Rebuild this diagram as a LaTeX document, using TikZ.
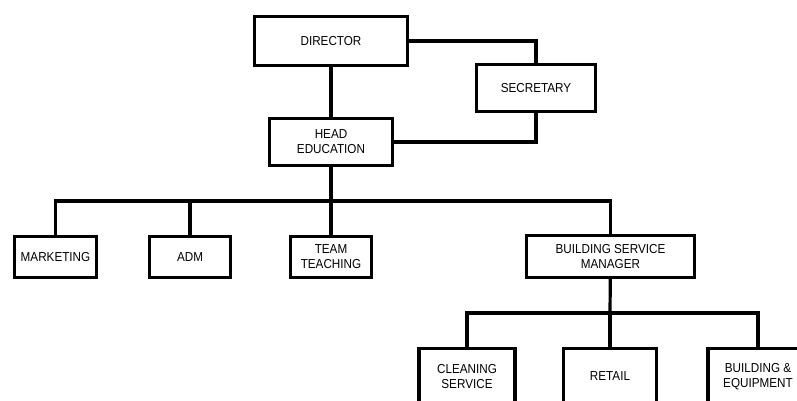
\documentclass[tikz,border=0pt]{standalone}
\usepackage{fontspec}
\setmainfont[FakeStretch=0.9]{Liberation Sans}
\usetikzlibrary{positioning}

\begin{document}
\begin{tikzpicture}[
  x=1pt, y=-1pt,
  every node/.style={draw, line width=3.2pt, align=center, inner sep=2pt,
    font=\fontsize{13}{15}\selectfont},
  topbox/.style={minimum width=153pt, minimum height=49pt},
  midbox/.style={minimum width=121pt, minimum height=47pt},
  deptbox/.style={minimum width=82pt, minimum height=41pt},
  lowbox/.style={minimum width=96pt, minimum height=56pt},
  link/.style={line width=3.2pt}
]
\useasboundingbox (0,0) rectangle (797,401);
\clip (0,0) rectangle (797,401);

% top of the chart
\node[topbox] (dir) at (331,41) {DIRECTOR};
\node[midbox, minimum width=119pt] (sec) at (536,88) {SECRETARY};
\node[midbox, minimum width=123pt] (head) at (331,142) {HEAD\\EDUCATION};

\draw[link] (dir) -- (head);
\draw[link] (dir.east) -| (sec.north);
\draw[link] (sec.south) |- (head.east);

% departments
\node[deptbox] (mkt) at (55.5,257) {MARKETING};
\node[deptbox, minimum width=81pt] (adm) at (190,257) {ADM};
\node[deptbox, minimum width=81pt] (team) at (331,257) {TEAM\\TEACHING};
\node[deptbox, minimum width=168pt, minimum height=42pt] (bsm) at (610.5,256.5)
  {BUILDING SERVICE\\MANAGER};

\coordinate (bus1) at (331,201);
\draw[link] (head) -- (bus1);
\draw[link] (bus1) -| (mkt.north);
\draw[link] (bus1) -| (adm.north);
\draw[link] (bus1) -- (team);
\draw[link] (bus1) -| (bsm.north);

% building service
\node[lowbox] (clean) at (467,376.5) {CLEANING\\SERVICE};
\node[lowbox, minimum width=93pt] (retail) at (610,376.5) {RETAIL};
\node[lowbox, minimum width=100pt] (equip) at (758,376.5) {BUILDING \&\\EQUIPMENT};

\coordinate (bus2) at (610,313);
\draw[link] (bsm) -- (bus2);
\draw[link] (bus2) -| (clean.north);
\draw[link] (bus2) -- (retail);
\draw[link] (bus2) -| (equip.north);

\end{tikzpicture}
\end{document}
